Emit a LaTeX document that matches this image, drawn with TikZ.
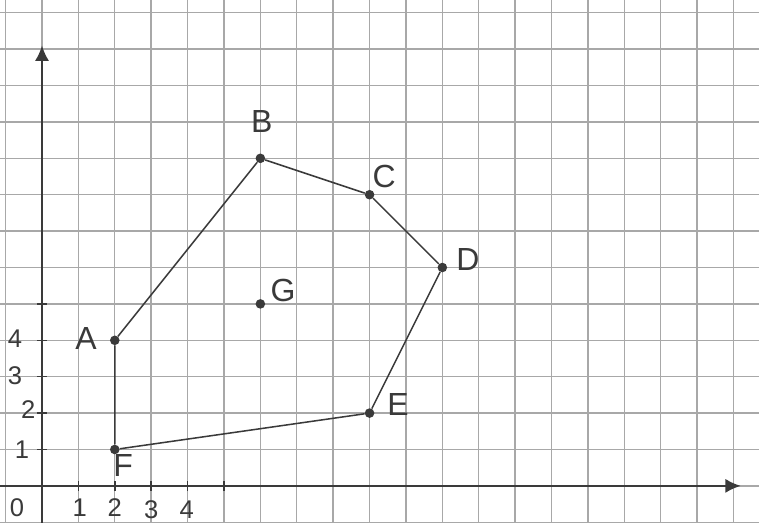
\documentclass[tikz,border=0pt]{standalone}
\usepackage{fontspec}
\setmainfont{Liberation Sans}
\usetikzlibrary{arrows.meta}
\definecolor{paper}{HTML}{A8A8A8}
\definecolor{pencil}{HTML}{3A3A3A}

\begin{document}
\begin{tikzpicture}[
  gridline/.style={paper, line width=1.1pt},
  axis/.style={pencil, line width=1.6pt, -{Latex[length=12pt, width=11pt]}},
  side/.style={pencil, line width=1.2pt},
  pt/.style={circle, fill=pencil, inner sep=0pt, minimum size=7.5pt},
  letter/.style={pencil, font=\fontsize{25}{25}\selectfont},
  num/.style={pencil, font=\fontsize{20}{20}\selectfont}
]
  % Sheet of squared paper
  \useasboundingbox (-1.154,-1.016) rectangle (19.70,13.35);
  \clip (-1.154,-1.016) rectangle (19.70,13.35);
  \fill[white] (-1.154,-1.016) rectangle (19.70,13.35);
  \draw[gridline] (-2,-2) grid (21,14);

  % Axes
  \coordinate (xstart) at (-1.3,0);
  \coordinate (xend) at (19.2,0);
  \coordinate (ystart) at (0,-1.2);
  \coordinate (yend) at (0,12.1);
  \draw[axis] (xstart) -- (xend);
  \draw[axis] (ystart) -- (yend);
  \foreach \i in {1,...,5} {
    \draw[side] (\i,-0.14) -- (\i,0.14);
    \draw[side] (-0.14,\i) -- (0.14,\i);
  }

  % Scale numbers
  \node[num] (n0) at (-0.69,-0.6) {0};
  \node[num] (nx1) at (1.04,-0.6) {1};
  \node[num] (nx2) at (2.0,-0.6) {2};
  \node[num] (nx3) at (3.0,-0.66) {3};
  \node[num] (nx4) at (3.98,-0.66) {4};
  \node[num] (ny1) at (-0.55,0.99) {1};
  \node[num] (ny2) at (-0.38,2.09) {2};
  \node[num] (ny3) at (-0.74,3.02) {3};
  \node[num] (ny4) at (-0.74,4.04) {4};

  % Points
  \node[pt] (A) at (2,4) {};
  \node[pt] (B) at (6,9) {};
  \node[pt] (C) at (9,8) {};
  \node[pt] (D) at (11,6) {};
  \node[pt] (E) at (9,2) {};
  \node[pt] (F) at (2,1) {};
  \node[pt] (G) at (6,5) {};

  % Polygon
  \draw[side] (A) -- (B) -- (C) -- (D) -- (E) -- (F) -- (A);

  % Point names
  \node[letter] (lblA) at (1.21,4.04) {A};
  \node[letter] (lblB) at (6.04,10.0) {B};
  \node[letter] (lblC) at (9.4,8.49) {C};
  \node[letter] (lblD) at (11.7,6.21) {D};
  \node[letter] (lblE) at (9.78,2.23) {E};
  \node[letter] (lblF) at (2.23,0.55) {F};
  \node[letter] (lblG) at (6.62,5.38) {G};
\end{tikzpicture}
\end{document}
